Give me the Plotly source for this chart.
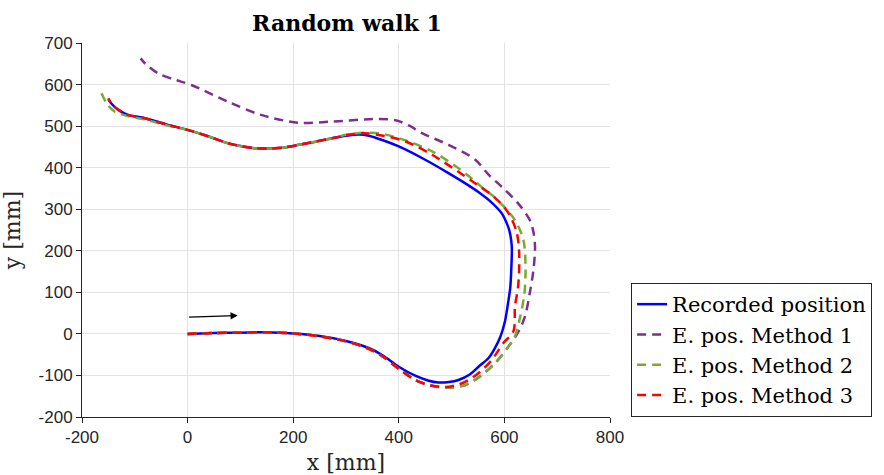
import plotly.graph_objects as go

# Recorded position
rec_x = [0,50,100,150,200,250,300,343,370,400,430,455,475,495,513,535,551,570,582,592,601,607,611,613,614,611,607,595,576,550,520,494,450,400,370,343,325,300,274,240,211,180,150,126,100,76,40,0,-40,-81,-113,-131,-145,-150]
rec_y = [0,2,3,4,1,-5,-17,-34,-52,-79,-100,-112,-117,-116,-111,-97,-79,-58,-34,-8,30,75,110,154,210,240,258,290,316,342,367,387,419,451,466,477,480,477,471,462,455,448,446,447,452,459,475,491,504,519,527,539,555,565]

# Method 1
m1_x = [0,50,100,150,200,250,300,343,370,400,430,457,488,526,557,582,608,626,639,648,655,658,655,648,626,595,570,545,494,444,420,394,356,274,211,139,76,7,-25,-56,-80,-89]
m1_y = [0,2,3,4,1,-6,-18,-36,-55,-84,-110,-123,-129,-123,-99,-71,-30,4,42,98,154,210,245,274,314,354,383,419,455,483,501,514,517,511,508,527,559,599,612,627,650,663]

# Method 2
m2_x = [0,50,100,150,200,250,300,343,370,400,430,457,488,526,557,582,608,620,630,638,640,636,620,602,582,560,540,519,469,419,362,337,300,274,240,211,180,150,126,100,76,40,0,-40,-81,-113,-138,-152,-163]
m2_y = [0,2,3,4,1,-6,-18,-36,-55,-84,-110,-123,-129,-123,-99,-71,-30,-6,42,98,162,226,274,302,328,350,372,393,435,463,483,484,479,471,462,455,448,446,447,452,459,475,491,502,516,524,535,552,579]

# Method 3
m3_x = [0,50,100,150,200,250,300,343,370,400,430,460,488,510,532,555,576,598,617,620,626,628,623,608,590,570,545,513,463,413,356,330,300,274,240,211,180,150,126,100,76,40,0,-40,-81,-113,-131,-145,-150]
m3_y = [0,2,3,4,1,-6,-18,-36,-55,-84,-110,-124,-128,-123,-111,-90,-63,-22,6,66,114,194,246,290,318,340,362,390,431,463,480,483,478,471,462,455,448,446,447,452,459,475,491,504,519,527,539,555,567]

# direction arrow (tail, head)
arrow_tail = (0, 40)
arrow_head = (95, 44)

x_ticks = [-200, 0, 200, 400, 600, 800]
x_ticktext = ["-200", "0", "200", "400", "600", "800"]
y_ticks = [-200, -100, 0, 100, 200, 300, 400, 500, 600, 700]
y_ticktext = ["-200", "-100", "0", "100", "200", "300", "400", "500", "600", "700"]

names = ["Recorded position", "E. pos. Method 1", "E. pos. Method 2", "E. pos. Method 3"]
colors = ["#0000ff", "#7e2f8e", "#77ac30", "#ff0000"]

serif = "DejaVu Serif"
sans = "Liberation Sans"

fig = go.Figure()
series = [(rec_x, rec_y, "solid"), (m1_x, m1_y, "9px,6px"), (m2_x, m2_y, "9px,6px"), (m3_x, m3_y, "9px,6px")]
for (xs, ys, dash), nm, col in zip(series, names, colors):
    fig.add_trace(go.Scatter(x=xs, y=ys, mode="lines", name=nm,
                             line=dict(color=col, width=2.5, dash=dash, shape="spline", smoothing=0.9)))

fig.add_annotation(x=arrow_head[0], y=arrow_head[1], ax=arrow_tail[0], ay=arrow_tail[1],
                   xref="x", yref="y", axref="x", ayref="y", text="",
                   showarrow=True, arrowhead=2, arrowsize=1.2, arrowwidth=1.2, arrowcolor="black")

axis_common = dict(showgrid=True, gridcolor="#e3e3e3", gridwidth=1, zeroline=False,
                   showline=True, linecolor="#262626", linewidth=1, mirror=False,
                   ticks="outside", ticklen=5, tickcolor="#262626", automargin=False,
                   tickfont=dict(family=sans, size=17, color="#262626"))

fig.update_layout(
    width=884, height=475,
    margin=dict(l=82, r=272, t=43, b=58),
    paper_bgcolor="white", plot_bgcolor="white",
    title=dict(text="<b>Random walk 1</b>", x=347 / 884, xanchor="center", y=0.968, yanchor="top",
               font=dict(family=serif, size=22, color="black")),
    xaxis=dict(range=[-200, 800], tickvals=x_ticks, ticktext=x_ticktext,
               title=dict(text="x [mm]", font=dict(family=serif, size=22, color="#262626")),
               **axis_common),
    yaxis=dict(range=[-200, 700], tickvals=y_ticks, ticktext=y_ticktext,
               title=dict(text="y [mm]", font=dict(family=serif, size=22, color="#262626")),
               **axis_common),
    legend=dict(x=1.04, xanchor="left", y=0, yanchor="bottom",
                bordercolor="#262626", borderwidth=1, bgcolor="white",
                font=dict(family=serif, size=21, color="black"),
                itemwidth=30, tracegroupgap=0),
    showlegend=True,
)

fig.write_html("out.html")
